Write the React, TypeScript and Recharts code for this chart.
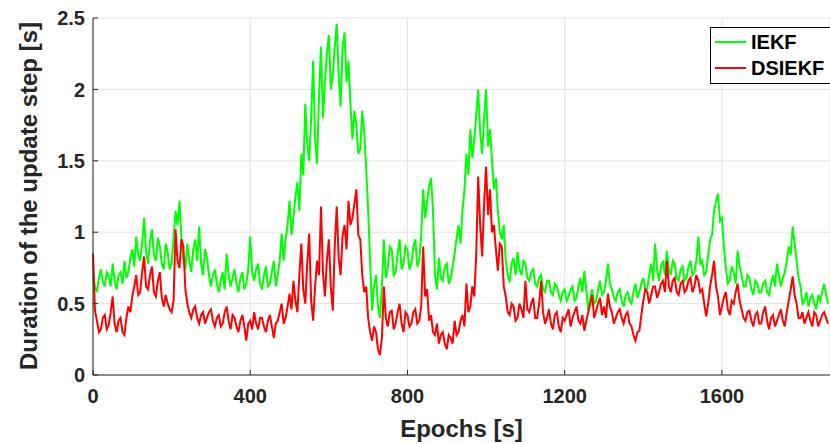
import React from "react";
import { LineChart, Line, XAxis, YAxis, CartesianGrid } from "recharts";

const EPOCH_STEP = 10;

const iekf = [
  0.70, 0.58, 0.74, 0.62, 0.70, 0.78, 0.60, 0.72, 0.80, 0.72,
  0.88, 0.97, 0.80, 1.10, 0.78, 1.02, 0.80, 0.90, 0.74, 0.86,
  0.78, 1.15, 1.22, 0.80, 0.92, 0.72, 0.95, 1.04, 0.70, 0.82,
  0.62, 0.74, 0.58, 0.72, 0.85, 0.62, 0.74, 0.58, 0.72, 0.64,
  0.97, 0.66, 0.78, 0.60, 0.76, 0.64, 0.80, 0.70, 0.99, 0.95,
  1.22, 1.10, 1.35, 1.55, 1.90, 1.50, 2.20, 1.48, 2.30, 2.05,
  2.38, 2.10, 2.46, 1.88, 2.40, 2.20, 1.65, 1.75, 1.58, 1.70,
  1.15, 0.45, 0.70, 0.40, 0.95, 0.75, 0.88, 0.72, 0.95, 0.78,
  0.88, 0.78, 0.95, 0.80, 1.30, 1.22, 1.38, 0.70, 0.82, 0.66,
  0.78, 0.68, 0.85, 1.05, 1.15, 1.55, 1.72, 1.65, 2.00, 1.55,
  2.00, 1.72, 1.30, 1.15, 0.95, 0.80, 0.65, 0.82, 0.86, 0.70,
  0.78, 0.66, 0.74, 0.62, 0.70, 0.58, 0.66, 0.56, 0.62, 0.52,
  0.60, 0.55, 0.62, 0.54, 0.68, 0.73, 0.45, 0.60, 0.52, 0.66,
  0.58, 0.78, 0.60, 0.52, 0.60, 0.48, 0.58, 0.50, 0.64, 0.58,
  0.68, 0.60, 0.78, 0.92, 0.66, 0.80, 0.87, 0.70, 0.78, 0.66,
  0.76, 0.68, 0.80, 0.72, 0.97, 0.80, 0.72, 0.95, 1.15, 1.27,
  1.10, 0.75, 0.66, 0.72, 0.87, 0.70, 0.62, 0.68, 0.56, 0.64,
  0.58, 0.66, 0.56, 0.70, 0.78, 0.62, 0.72, 0.90, 1.04, 0.80,
  0.62, 0.52, 0.48, 0.56, 0.46, 0.52, 0.64, 0.50,
];

// in-between samples (epochs 5, 15, 25, ...)
const iekfMid = [
  0.62, 0.68, 0.66, 0.72, 0.62, 0.66, 0.70, 0.64, 0.68, 0.82,
  0.76, 0.84, 0.92, 0.86, 0.94, 0.84, 0.96, 0.78, 0.92, 0.74,
  0.96, 1.05, 0.95, 0.74, 0.80, 0.88, 0.80, 0.78, 0.88, 0.70,
  0.70, 0.64, 0.66, 0.60, 0.70, 0.68, 0.64, 0.68, 0.60, 0.74,
  0.72, 0.74, 0.64, 0.70, 0.62, 0.72, 0.62, 0.80, 0.80, 1.05,
  0.98, 1.25, 1.15, 1.40, 1.62, 1.80, 1.65, 1.95, 1.80, 2.25,
  2.00, 2.30, 2.10, 2.30, 2.05, 1.90, 1.85, 1.55, 1.85, 1.45,
  0.80, 0.62, 0.48, 0.62, 0.68, 0.90, 0.70, 0.85, 0.74, 0.90,
  0.74, 0.90, 0.76, 0.98, 1.10, 1.32, 1.15, 0.60, 0.68, 0.76,
  0.64, 0.76, 0.96, 0.92, 1.30, 1.40, 1.52, 1.82, 1.70, 1.80,
  1.60, 1.50, 1.38, 1.00, 1.05, 0.70, 0.78, 0.70, 0.74, 0.80,
  0.68, 0.72, 0.64, 0.68, 0.60, 0.66, 0.58, 0.64, 0.56, 0.58,
  0.52, 0.60, 0.52, 0.62, 0.58, 0.60, 0.54, 0.50, 0.60, 0.56,
  0.66, 0.64, 0.54, 0.58, 0.52, 0.56, 0.52, 0.58, 0.54, 0.64,
  0.60, 0.70, 0.66, 0.74, 0.76, 0.70, 0.74, 0.80, 0.68, 0.74,
  0.66, 0.76, 0.70, 0.80, 0.78, 0.70, 0.84, 0.98, 1.22, 1.08,
  0.90, 0.64, 0.76, 0.64, 0.76, 0.62, 0.70, 0.60, 0.66, 0.58,
  0.64, 0.58, 0.64, 0.62, 0.70, 0.68, 0.80, 0.84, 0.92, 0.68,
  0.50, 0.58, 0.54, 0.50, 0.56, 0.58, 0.56,
];

const dsiekf = [
  0.85, 0.38, 0.32, 0.42, 0.35, 0.55, 0.30, 0.40, 0.28, 0.48,
  0.55, 0.70, 0.58, 0.83, 0.60, 0.76, 0.55, 0.72, 0.48, 0.50,
  0.44, 1.02, 0.75, 0.90, 0.50, 0.40, 0.48, 0.36, 0.44, 0.40,
  0.46, 0.34, 0.42, 0.36, 0.48, 0.32, 0.40, 0.30, 0.42, 0.24,
  0.38, 0.44, 0.32, 0.40, 0.30, 0.42, 0.26, 0.38, 0.50, 0.40,
  0.57, 0.66, 0.44, 0.92, 0.50, 0.99, 0.38, 0.80, 1.18, 0.55,
  0.95, 0.45, 1.18, 0.70, 1.05, 1.22, 1.10, 1.30, 0.95, 0.58,
  0.40, 0.24, 0.30, 0.14, 0.62, 0.34, 0.45, 0.36, 0.50, 0.30,
  0.42, 0.36, 0.46, 0.38, 0.90, 0.60, 0.42, 0.28, 0.22, 0.30,
  0.18, 0.26, 0.38, 0.30, 0.42, 0.64, 0.48, 0.55, 1.39, 0.83,
  1.46, 1.30, 1.05, 0.73, 0.90, 0.55, 0.42, 0.48, 0.40, 0.46,
  0.66, 0.44, 0.54, 0.40, 0.66, 0.36, 0.46, 0.32, 0.44, 0.30,
  0.38, 0.46, 0.40, 0.48, 0.36, 0.31, 0.44, 0.56, 0.45, 0.54,
  0.48, 0.57, 0.44, 0.40, 0.46, 0.36, 0.44, 0.34, 0.24, 0.31,
  0.52, 0.58, 0.56, 0.62, 0.58, 0.66, 0.80, 0.58, 0.68, 0.56,
  0.66, 0.60, 0.68, 0.62, 0.66, 0.60, 0.41, 0.62, 0.80, 0.55,
  0.48, 0.58, 0.42, 0.50, 0.64, 0.46, 0.38, 0.45, 0.34, 0.44,
  0.36, 0.48, 0.32, 0.42, 0.38, 0.46, 0.34, 0.52, 0.69, 0.50,
  0.40, 0.36, 0.44, 0.34, 0.42, 0.38, 0.44, 0.36,
];

const dsiekfMid = [
  0.45, 0.30, 0.40, 0.32, 0.44, 0.36, 0.38, 0.30, 0.40, 0.44,
  0.62, 0.56, 0.72, 0.62, 0.70, 0.58, 0.66, 0.54, 0.56, 0.46,
  0.52, 0.80, 0.95, 0.60, 0.44, 0.46, 0.40, 0.42, 0.36, 0.44,
  0.38, 0.40, 0.34, 0.44, 0.38, 0.42, 0.34, 0.38, 0.34, 0.36,
  0.32, 0.36, 0.40, 0.34, 0.38, 0.34, 0.36, 0.44, 0.36, 0.48,
  0.46, 0.52, 0.70, 0.60, 0.78, 0.52, 0.62, 0.70, 0.72, 0.80,
  0.62, 0.90, 0.82, 0.98, 0.88, 1.05, 1.20, 0.98, 0.70, 0.62,
  0.30, 0.34, 0.18, 0.26, 0.40, 0.44, 0.32, 0.44, 0.36, 0.44,
  0.34, 0.44, 0.36, 0.48, 0.55, 0.38, 0.30, 0.36, 0.28, 0.22,
  0.28, 0.22, 0.28, 0.38, 0.34, 0.44, 0.62, 0.85, 1.05, 1.20,
  1.12, 1.00, 0.88, 0.92, 0.62, 0.44, 0.50, 0.38, 0.50, 0.40,
  0.46, 0.50, 0.40, 0.50, 0.44, 0.40, 0.36, 0.42, 0.34, 0.40,
  0.42, 0.34, 0.44, 0.38, 0.42, 0.38, 0.50, 0.40, 0.50, 0.42,
  0.40, 0.48, 0.36, 0.44, 0.40, 0.42, 0.36, 0.28, 0.30, 0.42,
  0.60, 0.50, 0.62, 0.54, 0.64, 0.58, 0.62, 0.66, 0.58, 0.64,
  0.58, 0.66, 0.58, 0.70, 0.58, 0.50, 0.50, 0.70, 0.62, 0.42,
  0.54, 0.46, 0.52, 0.58, 0.52, 0.40, 0.44, 0.38, 0.42, 0.36,
  0.44, 0.38, 0.40, 0.34, 0.42, 0.38, 0.44, 0.60, 0.56, 0.40,
  0.44, 0.40, 0.38, 0.44, 0.34, 0.42, 0.40,
];

const xTicks = [0, 400, 800, 1200, 1600];
const yTicks = [0, 0.5, 1, 1.5, 2, 2.5];

const data: { epoch: number; IEKF: number; DSIEKF: number }[] = [];
iekf.forEach((v, i) => {
  data.push({ epoch: i * EPOCH_STEP, IEKF: v, DSIEKF: dsiekf[i] });
  if (i < iekfMid.length) {
    data.push({ epoch: i * EPOCH_STEP + EPOCH_STEP / 2, IEKF: iekfMid[i], DSIEKF: dsiekfMid[i] });
  }
});

const FONT = "'Liberation Sans', Arial, sans-serif";
const INK = "#262626";

const legendItems = [
  { name: "IEKF", color: "#00ff00" },
  { name: "DSIEKF", color: "#ff0000" },
];

function LegendBox() {
  return (
    <div
      style={{
        position: "absolute",
        top: 27,
        left: 710,
        width: 130,
        border: "1px solid #000",
        background: "#fff",
        padding: "1px 0 2px 4px",
        fontFamily: FONT,
        fontWeight: 700,
        fontSize: 20,
        color: "#000",
        lineHeight: "26px",
      }}
    >
      {legendItems.map((it) => (
        <div key={it.name} style={{ display: "flex", alignItems: "center" }}>
          <span style={{ width: 31, height: 2, background: it.color, marginRight: 5 }} />
          <span>{it.name}</span>
        </div>
      ))}
    </div>
  );
}

export default function App() {
  return (
    <div style={{ position: "absolute", left: 0, top: 0, width: 830, height: 444, background: "#fff", overflow: "hidden" }}>
      <LineChart width={830} height={444} data={data} margin={{ top: 18, right: 0, bottom: 0, left: 0 }}>
        <CartesianGrid stroke="#e3e3e3" strokeWidth={1} />
        <XAxis
          dataKey="epoch"
          type="number"
          domain={[0, 1875]}
          ticks={xTicks}
          height={69}
          tickSize={-5}
          tickMargin={19}
          stroke={INK}
          tick={{ fill: INK, fontSize: 20, fontWeight: 700, fontFamily: FONT }}
          label={{
            value: "Epochs [s]",
            position: "insideBottom",
            offset: 7,
            fill: INK,
            fontSize: 24,
            fontWeight: 700,
            fontFamily: FONT,
          }}
        />
        <XAxis
          xAxisId="top"
          orientation="top"
          dataKey="epoch"
          type="number"
          domain={[0, 1875]}
          ticks={xTicks}
          height={0}
          tickSize={-5}
          stroke={INK}
          tickFormatter={() => ""}
        />
        <YAxis
          type="number"
          domain={[0, 2.5]}
          ticks={yTicks}
          width={93}
          tickSize={-5}
          tickMargin={13}
          stroke={INK}
          tick={{ fill: INK, fontSize: 20, fontWeight: 700, fontFamily: FONT }}
          label={() => (
            <text
              x={28}
              y={196}
              transform="rotate(-90 28 196)"
              textAnchor="middle"
              dominantBaseline="central"
              fill={INK}
              fontSize={24}
              fontWeight={700}
              fontFamily={FONT}
            >
              Duration of the update step [s]
            </text>
          )}
        />
        <Line
          type="linear"
          dataKey="IEKF"
          stroke="#00ff00"
          strokeWidth={2}
          dot={false}
          isAnimationActive={false}
        />
        <Line
          type="linear"
          dataKey="DSIEKF"
          stroke="#ff0000"
          strokeWidth={2}
          dot={false}
          isAnimationActive={false}
        />
      </LineChart>
      <LegendBox />
    </div>
  );
}
